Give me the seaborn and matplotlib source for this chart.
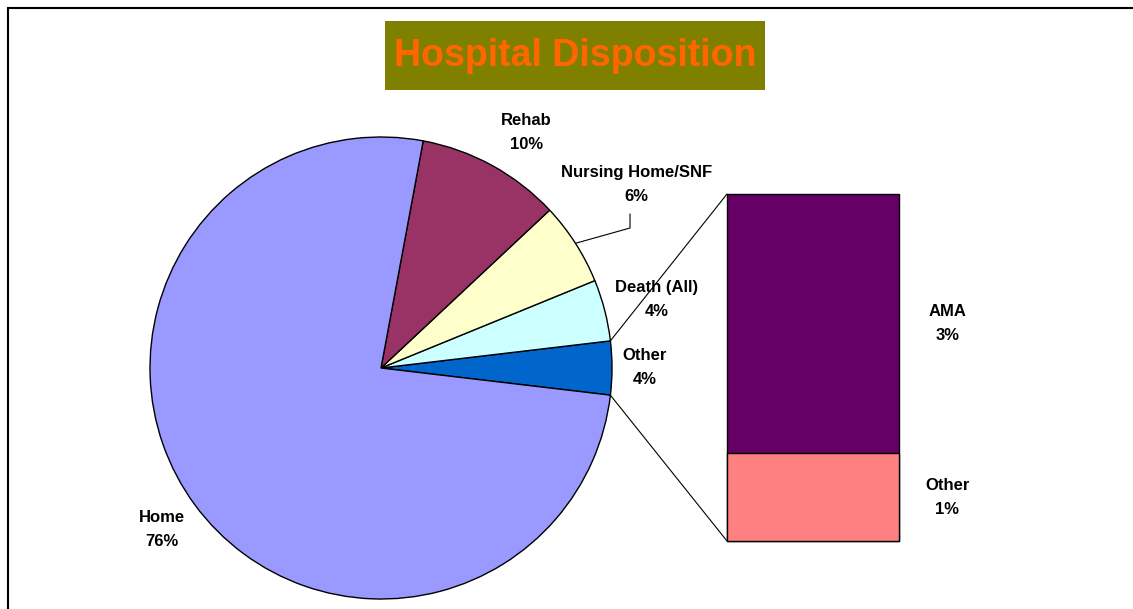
import numpy as np
import seaborn as sns
import matplotlib.pyplot as plt
from matplotlib.patches import Rectangle, ConnectionPatch

# pie slices, counter-clockwise starting from the split-out slice
pie_labels = ['Other', 'Death (All)', 'Nursing Home/SNF', 'Rehab', 'Home']
pie_values = [3.75, 4.3, 5.8, 10.1, 76.05]
pie_pct = ['4%', '4%', '6%', '10%', '76%']
pie_colors = ['#0066CC', '#CCFFFF', '#FFFFCC', '#993366', '#9999FF']

# breakdown of the "Other" slice (bottom to top)
bar_labels = ['Other', 'AMA']
bar_values = [0.95, 2.8]
bar_pct = ['1%', '3%']
bar_colors = ['#FF8080', '#660066']

sns.set_style('white')
plt.rcParams['font.family'] = ['Liberation Sans', 'DejaVu Sans']
plt.rcParams['text.color'] = 'black'

W, H = 1133, 609
fig = plt.figure(figsize=(W / 100, H / 100), dpi=100)

# frame lines (top and left only visible)
fig.patches.append(Rectangle((8 / W, -0.1), 1.2, 1.1 - 8 / H, transform=fig.transFigure,
                             fill=False, edgecolor='black', linewidth=1.5))

# title box
fig.patches.append(Rectangle((385 / W, 1 - 90 / H), 380 / W, 69 / H, transform=fig.transFigure,
                             facecolor='#808000', edgecolor='none'))
fig.text(575 / W, 1 - 56 / H, 'Hospital Disposition', fontsize=27, fontweight='bold',
         color='#FF6600', ha='center', va='center')

# pie
ax_pie = fig.add_axes([150 / W, 1 - 599 / H, 462 / W, 462 / H])
start = -pie_values[0] / 2 * 3.6
wedges, _ = ax_pie.pie(pie_values, colors=pie_colors, startangle=start, counterclock=True,
                       wedgeprops=dict(edgecolor='black', linewidth=1))
ax_pie.set_xlim(-1, 1)
ax_pie.set_ylim(-1, 1)
ax_pie.axis('off')

label_dist = [1.14, 1.23, 1.36, 1.2, 1.18]
label_shift = [0, -0.5, 3, -3, 0]
for w, name, pct, d, s in zip(wedges, pie_labels, pie_pct, label_dist, label_shift):
    mid = np.deg2rad((w.theta1 + w.theta2) / 2 + s)
    ax_pie.text(d * np.cos(mid), d * np.sin(mid), f'{name}\n{pct}', ha='center', va='center',
                fontsize=12, fontweight='bold', linespacing=1.75)

# leader line for Nursing Home/SNF
nw = wedges[2]
m = np.deg2rad((nw.theta1 + nw.theta2) / 2)
ax_pie.plot([np.cos(m), 1.078, 1.078], [np.sin(m), 0.606, 0.667], color='black',
            linewidth=0.8, clip_on=False)

# stacked bar for the split slice
ax_bar = fig.add_axes([727 / W, 1 - 541 / H, 172 / W, 347 / H])
total = sum(bar_values)
sns.barplot(x=['split'], y=[total], color=bar_colors[1], saturation=1, width=1,
            edgecolor='black', linewidth=1, ax=ax_bar)
sns.barplot(x=['split'], y=[bar_values[0]], color=bar_colors[0], saturation=1, width=1,
            edgecolor='black', linewidth=1, ax=ax_bar)
for p in ax_bar.patches:
    p.set_clip_on(False)
ax_bar.set_xlim(-0.5, 0.5)
ax_bar.set_ylim(0, total)
ax_bar.axis('off')

bottom = 0
for name, val, pct in zip(bar_labels, bar_values, bar_pct):
    ax_bar.text(1.28, bottom + val / 2, f'{name}\n{pct}', transform=ax_bar.get_yaxis_transform(),
                ha='center', va='center', fontsize=12, fontweight='bold', linespacing=1.75)
    bottom += val

# connector lines from the split slice to the bar
ow = wedges[0]
for ang, corner in [(ow.theta2, (0, 1)), (ow.theta1, (0, 0))]:
    a = np.deg2rad(ang)
    con = ConnectionPatch(xyA=(np.cos(a), np.sin(a)), coordsA=ax_pie.transData,
                          xyB=corner, coordsB=ax_bar.transAxes, color='black', linewidth=0.8)
    fig.add_artist(con)

plt.savefig('out.png', dpi=100)
